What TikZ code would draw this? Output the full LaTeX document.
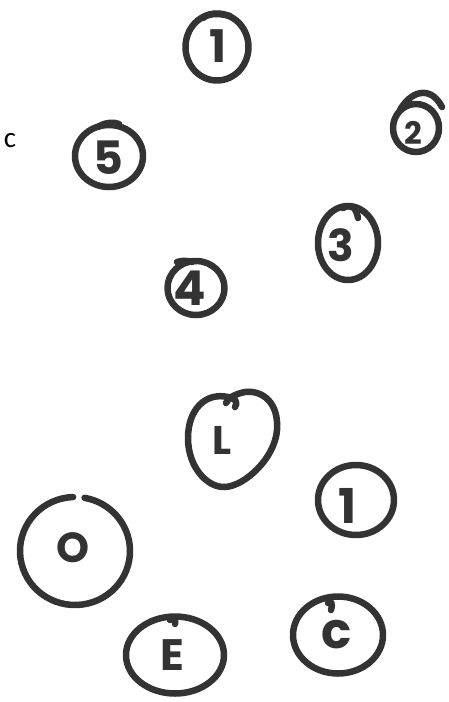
\documentclass[tikz,border=0pt]{standalone}
\usepackage{fontspec}
\newfontfamily\hand{Poppins}
\newfontfamily\calib{Carlito}
\definecolor{ink}{HTML}{333333}
\tikzset{
  stroke/.style={draw=ink, line width=6.5pt, line cap=round, line join=round},
  glyph/.style={text=ink, inner sep=0pt, font=\hand\bfseries},
}
\begin{document}
\begin{tikzpicture}[x=1pt,y=-1pt]
\useasboundingbox (0,0) rectangle (449,702);
% centres
\coordinate (cA) at (217,47);
\coordinate (cB) at (416,128);
\coordinate (cC) at (109,156);
\coordinate (cD) at (348,243);
\coordinate (cE) at (196,288);
\coordinate (cF) at (356,500);
\coordinate (cG) at (75,551);
\coordinate (cH) at (175,655);
\coordinate (cI) at (338,635);
% top group
\draw[stroke] (cA) ellipse [x radius=31.5pt, y radius=33.5pt];
\draw[stroke] (203,18) .. controls (210,12) and (222,14) .. (230,16);
\draw[stroke] (cB) ellipse [x radius=23pt, y radius=24pt];
\draw[stroke] (400,110) .. controls (410,92) and (430,84) .. (442,107);
\draw[stroke] (cC) ellipse [x radius=34pt, y radius=31pt];
\draw[stroke] (98,127) .. controls (105,122) and (115,122) .. (119,124);
\draw[stroke] (cD) ellipse [x radius=30pt, y radius=37pt];
\draw[stroke] (343,208) .. controls (350,204) and (356,206) .. (358,218);
\draw[stroke] (cE) ellipse [x radius=28.5pt, y radius=27pt];
\draw[stroke] (177,262) .. controls (183,260) and (188,261) .. (192,262);
% bottom group
\draw[stroke] (235,407) .. controls (238,403) and (236,398) .. (228,397)
  .. controls (205,392) and (188,410) .. (188,438)
  .. controls (188,468) and (208,488) .. (225,487)
  .. controls (245,486) and (275,458) .. (277,430)
  .. controls (279,402) and (262,390) .. (245,392)
  .. controls (235,394) and (228,398) .. (226,403);
\draw[stroke] (cF) ellipse [x radius=38pt, y radius=35pt];
\draw[stroke] (cG) ++(92:55pt and 54pt) arc[start angle=92, end angle=440, x radius=55pt, y radius=54pt];
\draw[stroke] (cH) ellipse [x radius=49pt, y radius=38.5pt];
\draw[stroke] (170,620) .. controls (174,617) and (176,619) .. (175,624);
\draw[stroke] (cI) ellipse [x radius=45pt, y radius=38.5pt];
\draw[stroke] (328,603) .. controls (331,600) and (333,603) .. (331,610);
% labels
\node[glyph, font=\hand\bfseries\fontsize{45}{45}\selectfont] (tA) at (218,46) {1};
\node[glyph, font=\hand\bfseries\fontsize{31}{31}\selectfont] (tB) at (413,133) {2};
\node[glyph, font=\hand\bfseries\fontsize{46}{46}\selectfont] (tC) at (108,158) {5};
\node[glyph, font=\hand\bfseries\fontsize{44}{44}\selectfont] (tD) at (341,245) {3};
\node[glyph, font=\hand\bfseries\fontsize{48}{48}\selectfont] (tE) at (190,288) {4};
\node[glyph, font=\hand\bfseries\fontsize{40}{40}\selectfont] (tF) at (222,440) {L};
\node[glyph, font=\hand\bfseries\fontsize{48}{48}\selectfont] (tG) at (348,506) {1};
\node[glyph, font=\hand\bfseries\fontsize{42}{42}\selectfont] (tH) at (73,548) {O};
\node[glyph, font=\hand\bfseries\fontsize{44}{44}\selectfont] (tI) at (172,655) {E};
\node[glyph, font=\hand\bfseries\fontsize{50}{50}\selectfont] (tJ) at (337,635) {c};
\node[text=black, inner sep=0pt, font=\calib\fontsize{29}{29}\selectfont] (tK) at (10,141) {c};
\end{tikzpicture}
\end{document}
